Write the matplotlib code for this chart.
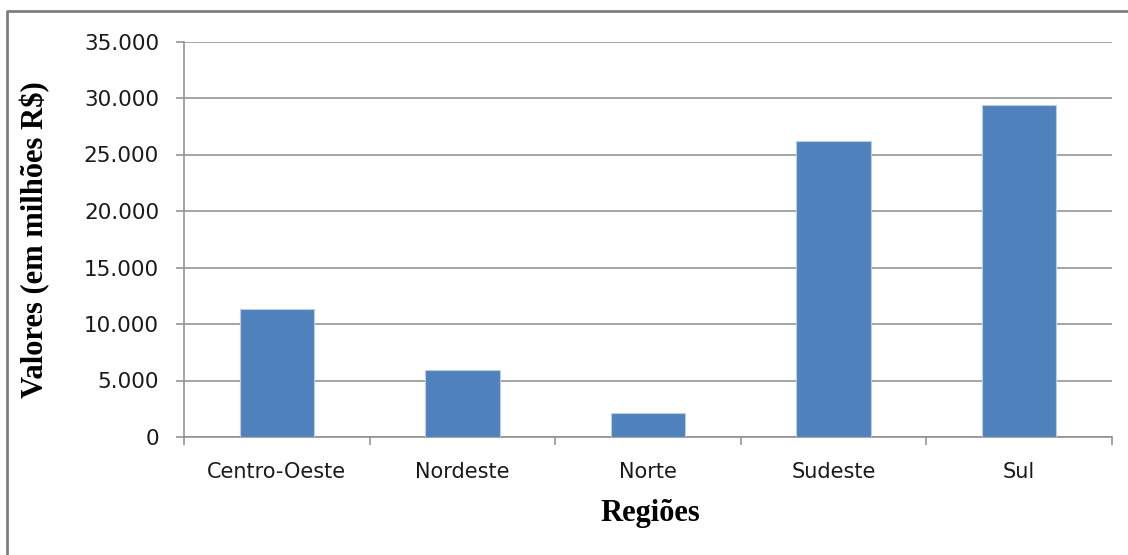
import matplotlib
matplotlib.use('Agg')
import matplotlib.pyplot as plt
from matplotlib.lines import Line2D
from matplotlib.ticker import FuncFormatter

regioes = ["Centro-Oeste", "Nordeste", "Norte", "Sudeste", "Sul"]
valores = [11300, 5900, 2100, 26200, 29400]
yticks = [0, 5000, 10000, 15000, 20000, 25000, 30000, 35000]

BAR = '#4F81BD'
GRID = '#8C8C8C'

fig = plt.figure(figsize=(11.28, 5.55), dpi=100)
ax = fig.add_axes([184/1128, 1 - 437/555, (1112 - 184)/1128, (437 - 41.5)/555])

x = list(range(len(regioes)))
ax.bar(x, valores, width=0.4, color=BAR, edgecolor='#B9CDE5', linewidth=0.8, zorder=3)

ax.set_xlim(-0.5, len(regioes) - 0.5)
ax.set_ylim(0, 35000)
ax.set_yticks(yticks)
ax.yaxis.set_major_formatter(FuncFormatter(lambda v, p: f"{int(v):,}".replace(",", ".")))
ax.grid(axis='y', color=GRID, linewidth=1.1, zorder=0)

ax.set_xticks(x)
ax.set_xticklabels(regioes)
ax.set_xticks([i - 0.5 for i in range(len(regioes) + 1)], minor=True)
ax.tick_params(axis='x', which='major', length=0, pad=18, labelsize=15, labelcolor='#1a1a1a')
ax.tick_params(axis='x', which='minor', length=6, width=1.1, color=GRID, direction='out')
ax.tick_params(axis='y', length=6, width=1.1, color=GRID, pad=12, labelsize=15.5, labelcolor='#1a1a1a')

for s in ['top', 'right']:
    ax.spines[s].set_visible(False)
for s in ['left', 'bottom']:
    ax.spines[s].set_color(GRID)
    ax.spines[s].set_linewidth(1.1)

fig.text(35/1128, 1 - 240/555, "Valores (em milhões R$)", rotation=90, ha='center', va='center',
         family='Liberation Serif', fontweight='bold', fontsize=22)
fig.text(650/1128, 1 - 513/555, "Regiões", ha='center', va='center',
         family='Liberation Serif', fontweight='bold', fontsize=22)

# outer frame: only the left and top edges are inside the picture
fx, fy = 7/1128, 1 - 11/555
fig.add_artist(Line2D([fx, fx, 1.01], [-0.01, fy, fy], transform=fig.transFigure,
                      color='#7F7F7F', linewidth=2))

fig.savefig('out.png', dpi=100, facecolor='white')
